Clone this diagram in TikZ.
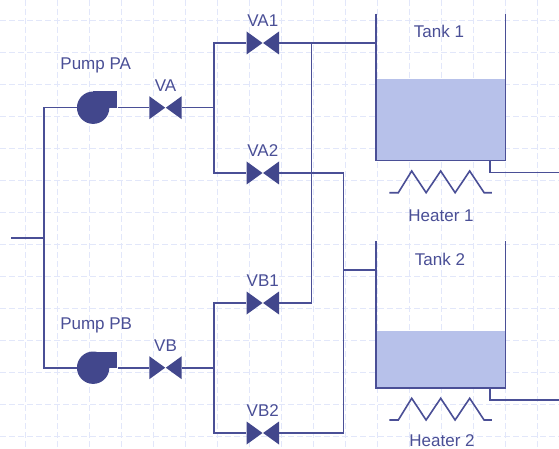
\documentclass[tikz,border=0pt]{standalone}
\usepackage{fontspec}
\setmainfont{Liberation Sans}
\usetikzlibrary{positioning}
\definecolor{pipeC}{HTML}{4A4F96}
\definecolor{bodyC}{HTML}{42478C}
\definecolor{liquidC}{HTML}{B7C1EA}
\definecolor{gridC}{HTML}{E2E7FA}

\begin{document}
\begin{tikzpicture}[x=1pt,y=-1pt,node distance=20pt,on grid]
  \tikzstyle{pipe}=[draw=pipeC,line width=1.6pt]
  \tikzstyle{gridline}=[gridC,dash pattern=on 6pt off 3pt,line width=0.8pt]
  \tikzstyle{lbl}=[text=pipeC,inner sep=0pt,font=\fontsize{17}{19}\selectfont]
  \tikzstyle{valve}=[rectangle,inner sep=0pt,minimum width=32.4pt,minimum height=23pt,
    path picture={
      \fill[bodyC] (path picture bounding box.north west) -- ([xshift=-0.3pt]path picture bounding box.center) -- (path picture bounding box.south west) -- cycle;
      \fill[bodyC] (path picture bounding box.north east) -- ([xshift=0.3pt]path picture bounding box.center) -- (path picture bounding box.south east) -- cycle;
    }]
  \tikzstyle{pump}=[rectangle,inner sep=0pt,minimum width=40.5pt,minimum height=32.4pt,
    path picture={
      \fill[bodyC] ([xshift=16.2pt]path picture bounding box.west) circle (16.2pt);
      \fill[bodyC] ([xshift=16.2pt]path picture bounding box.north west) rectangle (path picture bounding box.east);
    }]
  \tikzstyle{tank}=[rectangle,inner sep=0pt,minimum width=129.5pt]
  \tikzstyle{liquid}=[rectangle,inner sep=0pt,minimum width=129.5pt,fill=liquidC]

  \useasboundingbox (0,0) rectangle (559,449);
  \fill[white] (0,0) rectangle (559,449);

  % Background grid
  \foreach \gx in {25,57,...,537}
    \draw[gridline] (\gx,0) -- (\gx,449);
  \foreach \gy in {20,52,...,436}
    \draw[gridline] (0,\gy) -- (559,\gy);

  % Pumps
  \node[pump] (pumpA) at (97.2,107.7) {};
  \node[pump] (pumpB) at (97.2,367.7) {};

  % Valves
  \node[valve] (va)  at (165.5,107.7) {};
  \node[valve] (vb)  at (165.5,367.7) {};
  \node[valve] (va1) at (262.8,43) {};
  \node[valve] (va2) at (262.8,173) {};
  \node[valve] (vb1) at (262.8,303) {};
  \node[valve] (vb2) at (262.8,433) {};

  % Tanks
  \node[tank, minimum height=146.5pt] (tank1) at (440.7,87.2) {};
  \node[tank, minimum height=146.5pt] (tank2) at (440.7,314.5) {};
  \node[liquid, minimum height=81pt, anchor=south] (liq1) at (tank1.south) {};
  \node[liquid, minimum height=56.7pt, anchor=south] (liq2) at (tank2.south) {};
  \draw[pipe] (tank1.north west) -- (tank1.south west) -- (tank1.south east) -- (tank1.north east);
  \draw[pipe] (tank2.north west) -- (tank2.south west) -- (tank2.south east) -- (tank2.north east);

  % Junctions and free ends
  \coordinate (inlet) at (11,237.7);
  \coordinate (joinL) at (44,237.7);
  \coordinate (joinA) at (213.7,107.7);
  \coordinate (joinB) at (213.7,367.7);
  \coordinate (bus1) at (311.5,43);
  \coordinate (bus2) at (343.5,173);
  \coordinate (feed1) at (tank1.west |- bus1);
  \coordinate (feed2) at (tank2.west |- 0,270);
  \coordinate (drain1) at (489.7,160.5);
  \coordinate (drain2) at (489.7,387.8);
  \coordinate (out1) at (559,172.5);
  \coordinate (out2) at (559,399.8);

  % Pipes
  \draw[pipe] (inlet) -- (joinL);
  \draw[pipe] (pumpA.west) -| (pumpB.west -| joinL) -- (pumpB.west);
  \draw[pipe] (pumpA.east |- va) -- (va.west);
  \draw[pipe] (pumpB.east |- vb) -- (vb.west);
  \draw[pipe] (va.east) -- (joinA);
  \draw[pipe] (vb.east) -- (joinB);
  \draw[pipe] (va1.west) -| (joinA) |- (va2.west);
  \draw[pipe] (vb1.west) -| (joinB) |- (vb2.west);
  \draw[pipe] (va1.east) -- (feed1);
  \draw[pipe] (bus1) |- (vb1.east);
  \draw[pipe] (va2.east) -- (bus2) |- (vb2.east);
  \draw[pipe] (bus2 |- feed2) -- (feed2);
  \draw[pipe] (drain1) |- (out1);
  \draw[pipe] (drain2) |- (out2);

  % Heaters
  \draw[pipe] (389.3,192.7) -- ++(9,0) -- ++(13.4,-21.7) -- ++(14.4,21.7) -- ++(14.6,-21.7)
    -- ++(14.4,21.7) -- ++(14.6,-21.7) -- ++(14.4,21.7) -- ++(7.7,0);
  \draw[pipe] (389.3,420) -- ++(9,0) -- ++(13.4,-21.7) -- ++(14.4,21.7) -- ++(14.6,-21.7)
    -- ++(14.4,21.7) -- ++(14.6,-21.7) -- ++(14.4,21.7) -- ++(7.7,0);

  % Labels
  \node[lbl, above=42pt of pumpA, xshift=-1.5pt] (lblPA) {Pump PA};
  \node[lbl, above=42pt of pumpB, xshift=-1pt] (lblPB) {Pump PB};
  \node[lbl, above=22.5pt of va]  (lblVA)  {VA};
  \node[lbl, above=22.5pt of vb]  (lblVB)  {VB};
  \node[lbl, above=22.5pt of va1] (lblVA1) {VA1};
  \node[lbl, above=22.5pt of va2] (lblVA2) {VA2};
  \node[lbl, above=22.5pt of vb1] (lblVB1) {VB1};
  \node[lbl, above=22.5pt of vb2] (lblVB2) {VB2};
  \node[lbl] (lblT1) at (439,31) {Tank 1};
  \node[lbl] (lblT2) at (440,259) {Tank 2};
  \node[lbl] (lblH1) at (441,215.5) {Heater 1};
  \node[lbl] (lblH2) at (442,441) {Heater 2};
\end{tikzpicture}
\end{document}
